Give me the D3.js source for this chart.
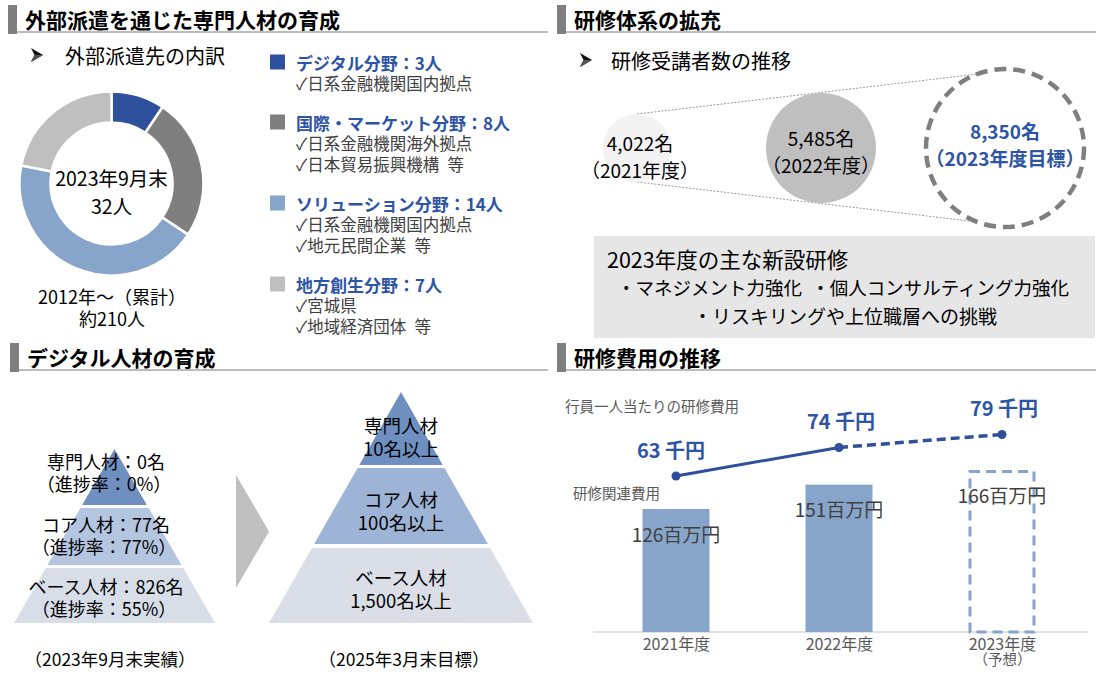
<!DOCTYPE html>
<html><head><meta charset="utf-8">
<script src="https://cdn.jsdelivr.net/npm/d3@7"></script>
<style>
body{margin:0;background:#fff}
svg{display:block}
text{font-family:"Noto Sans CJK JP","Noto Sans",sans-serif}
</style>
</head><body>
<svg id="c" width="1099" height="676"></svg>
<script>
// ---------------- data ----------------
const sectionTitles = ["外部派遣を通じた専門人材の育成","研修体系の拡充","デジタル人材の育成","研修費用の推移"];
const dispatchHeading = "外部派遣先の内訳";
const dispatchFields = ["デジタル分野","国際・マーケット分野","ソリューション分野","地方創生分野"];
const dispatchCounts = [3, 8, 14, 7];
const dispatchDestinations = [
  ["日系金融機関国内拠点"],
  ["日系金融機関海外拠点","日本貿易振興機構\u2002等"],
  ["日系金融機関国内拠点","地元民間企業\u2002等"],
  ["宮城県","地域経済団体\u2002等"]
];
const donutCenterLabels = ["2023年9月末","32人"];
const cumulativeLabels = ["2012年～（累計）","約210人"];

const attendeeHeading = "研修受講者数の推移";
const attendeeYears = ["2021年度","2022年度","2023年度目標"];
const attendeeCounts = [4022, 5485, 8350];
const newCourseTitle = "2023年度の主な新設研修";
const newCourses = ["・マネジメント力強化\u2002・個人コンサルティング力強化","・リスキリングや上位職層への挑戦"];

const tierNames = ["専門人材","コア人材","ベース人材"];
const currentCounts = [0, 77, 826];
const progressRates = [0, 77, 55];
const targetCounts = [10, 100, 1500];
const pyramidCaptions = ["（2023年9月末実績）","（2025年3月末目標）"];

const costYears = ["2021年度","2022年度","2023年度"];
const costYearNotes = ["","","（予想）"];
const costTotals = [126, 151, 166];       // 百万円
const costPerEmployee = [63, 74, 79];     // 千円
const costLabels = ["行員一人当たりの研修費用","研修関連費用"];

// ---------------- drawing ----------------
const svg = d3.select("#c");
const BLUE = "#2f4f9b", TBLUE = "#2e54a5";
const donutColors = ["#2f509c","#7f7f7f","#87a4ca","#bfbfbf"];

function T(x, y, str, o = {}) {
  return svg.append("text").attr("x", x).attr("y", y)
    .attr("dominant-baseline", "central")
    .attr("font-size", o.size || 18)
    .attr("fill", o.fill || "#000")
    .attr("text-anchor", o.anchor || "start")
    .attr("font-weight", o.weight || "normal")
    .text(str);
}
// multi-line text in one element (lines: [{s, x?, dy, size?, fill?, weight?}])
function TM(x, y, lines, o = {}) {
  const t = svg.append("text").attr("x", x).attr("y", y)
    .attr("dominant-baseline", "central")
    .attr("font-size", o.size || 18)
    .attr("fill", o.fill || "#000")
    .attr("text-anchor", o.anchor || "start")
    .attr("font-weight", o.weight || "normal");
  lines.forEach((l, i) => {
    const ts = t.append("tspan").attr("x", x + (l.dx || 0)).attr("dominant-baseline", "central").text(l.s);
    if (i === 0) ts.attr("y", y); else ts.attr("dy", l.dy);
    if (l.size) ts.attr("font-size", l.size);
    if (l.fill) ts.attr("fill", l.fill);
    if (l.weight) ts.attr("font-weight", l.weight);
  });
  return t;
}

// section headers
const headerBoxes = [[8,5,548],[557,5,1096],[10,343,548],[557,343,1096]];
sectionTitles.forEach((t, i) => {
  const [x, y, x2] = headerBoxes[i];
  svg.append("line").attr("x1", x + 9).attr("x2", x2).attr("y1", y + 27).attr("y2", y + 27)
    .attr("stroke", "#a6a6a6").attr("stroke-width", 1.5);
  svg.append("rect").attr("x", x).attr("y", y).attr("width", 9).attr("height", 29).attr("fill", "#7f7f7f");
  T(x + 17, y + 14, t, {size: 21, weight: "bold"});
});

// sub headings with arrowhead bullet
function arrowHead(x, y) {
  svg.append("path").attr("d", `M${x},${y - 7}L${x + 12},${y}L${x},${y + 7}L${x + 3.5},${y}Z`).attr("fill", "#111");
  svg.append("path").attr("d", `M${x + 3.5},${y}L${x + 12},${y}L${x},${y + 7}Z`).attr("fill", "#555");
}
arrowHead(31, 55); T(65, 55, dispatchHeading, {size: 20});
arrowHead(580, 60); T(611, 60, attendeeHeading, {size: 20});

// ---- donut ----
const pie = d3.pie().sort(null).value(d => d)(dispatchCounts);
const arc = d3.arc().innerRadius(61).outerRadius(92);
const dg = svg.append("g").attr("transform", "translate(111.5,183.5)");
dg.selectAll("path").data(pie).join("path")
  .attr("d", arc).attr("fill", (d, i) => donutColors[i])
  .attr("stroke", "#fff").attr("stroke-width", 2.5);
TM(111.5, 177, [{s: donutCenterLabels[0]}, {s: donutCenterLabels[1], dy: 28}], {size: 19.5, anchor: "middle"});
TM(112, 296, [{s: cumulativeLabels[0]}, {s: cumulativeLabels[1], dy: 22}], {size: 18, anchor: "middle"});

// ---- legend ----
let ly = 62;
dispatchFields.forEach((f, i) => {
  svg.append("rect").attr("x", 270).attr("y", ly - 7.5).attr("width", 15).attr("height", 15).attr("fill", donutColors[i]);
  const lines = [{s: `${f}：${dispatchCounts[i]}人`, size: 17, weight: "bold", fill: TBLUE}]
    .concat(dispatchDestinations[i].map(s => ({s: "✓" + s, dy: 21, size: 16.5, fill: "#404040", weight: "normal"})));
  TM(296, ly, lines, {size: 17});
  ly += 21 * dispatchDestinations[i].length + 39;
});

// ---- attendee circles ----
const cx = d3.scalePoint().domain(attendeeYears).range([637, 1005]);
const rr = d3.scaleLinear().domain([4022, 5485, 8350]).range([34, 55, 79]);
const ccy = 148;
const bx = cx(attendeeYears[2]), br = rr(attendeeCounts[2]);
const sx = cx(attendeeYears[0]), sr = rr(attendeeCounts[0]);
[-1, 1].forEach(s => {
  const dx = 28, dy = Math.sqrt(br * br - dx * dx);
  svg.append("line").attr("x1", sx).attr("y1", ccy + s * sr).attr("x2", bx - dx).attr("y2", ccy + s * dy)
    .attr("stroke", "#9a9a9a").attr("stroke-width", 1).attr("stroke-dasharray", "2 1.5");
});
const circleFill = ["#f2f2f2", "#bfbfbf", "#fff"];
attendeeYears.forEach((y, i) => {
  const c = svg.append("circle").attr("cx", cx(y)).attr("cy", ccy).attr("r", rr(attendeeCounts[i]))
    .attr("fill", circleFill[i]);
  if (i === 2) c.attr("fill", "none").attr("stroke", "#7f7f7f").attr("stroke-width", 4.5).attr("stroke-dasharray", "12 7");
});
const labOff = [-6, -11, -18];
attendeeYears.forEach((y, i) => {
  const bold = i === 2;
  TM(cx(y) + (i === 0 ? 3 : 0), ccy + labOff[i],
     [{s: d3.format(",")(attendeeCounts[i]) + "名"}, {s: "（" + y + "）", dy: 27}],
     {size: 19, anchor: "middle", fill: bold ? TBLUE : "#000", weight: bold ? "bold" : "normal"});
});

// new courses box
svg.append("rect").attr("x", 594).attr("y", 236).attr("width", 501).attr("height", 102).attr("fill", "#e7e6e6");
TM(607, 258, [
  {s: newCourseTitle, size: 21.5},
  {s: newCourses[0], dx: 236, dy: 29, size: 18.5},
  {s: newCourses[1], dx: 238, dy: 28, size: 19}
], {size: 19});
// center the bullet lines
svg.selectAll("text").filter(function () { return this.textContent.startsWith(newCourseTitle); })
  .selectAll("tspan").filter((d, i) => i > 0).attr("text-anchor", "middle");

// ---- pyramids ----
function pyramid(pcx, apexY, baseY, halfBase, bounds, colors) {
  const hw = y => halfBase * (y - apexY) / (baseY - apexY);
  bounds.forEach(([y0, y1], i) => {
    const pts = i === 0
      ? [[pcx, y0], [pcx + hw(y1), y1], [pcx - hw(y1), y1]]
      : [[pcx - hw(y0), y0], [pcx + hw(y0), y0], [pcx + hw(y1), y1], [pcx - hw(y1), y1]];
    svg.append("polygon").attr("points", pts.map(p => p.join(",")).join(" ")).attr("fill", colors[i]);
  });
}
pyramid(114.5, 449, 623, 100.5, [[449, 505], [508, 565], [568, 623]], ["#6f8fc1", "#b4c5e0", "#d8dee8"]);
pyramid(401, 392, 623, 132, [[392, 465], [468, 544], [548, 623]], ["#6f8fc1", "#9db4d6", "#d9dee7"]);
svg.append("polygon").attr("points", "236,475 269,531.5 236,588").attr("fill", "#bfbfbf");

const leftY = [462, 525, 587];
tierNames.forEach((n, i) => {
  TM(106, leftY[i] - 1, [
    {s: `${n}：${currentCounts[i]}名`},
    {s: `（進捗率：${progressRates[i]}%）`, dx: -2, dy: 22}
  ], {size: 18, anchor: "middle"});
});
const rightY = [426, 500, 578];
tierNames.forEach((n, i) => {
  TM(401, rightY[i] - 1, [
    {s: n},
    {s: d3.format(",")(targetCounts[i]) + "名以上", dy: 23}
  ], {size: 18.5, anchor: "middle"});
});
T(110, 658, pyramidCaptions[0], {size: 17.5, anchor: "middle"});
T(404, 658, pyramidCaptions[1], {size: 17.5, anchor: "middle"});

// ---- cost chart ----
const bx2 = d3.scalePoint().domain(costYears).range([676, 1002]);
const yb = d3.scaleLinear().domain([0, 166]).range([632, 470]);
const yl = d3.scaleLinear().domain([63, 79]).range([476, 434.5]);
const bw = 67;
svg.append("line").attr("x1", 593).attr("x2", 1088).attr("y1", 632).attr("y2", 632)
  .attr("stroke", "#d9d9d9").attr("stroke-width", 1.5);
costYears.forEach((y, i) => {
  const r = svg.append("rect").attr("x", bx2(y) - bw / 2).attr("y", yb(costTotals[i]))
    .attr("width", bw).attr("height", yb(0) - yb(costTotals[i]));
  if (i < 2) r.attr("fill", "#87a4ca");
  else r.attr("x", bx2(y) - bw / 2 + 1.5).attr("y", yb(costTotals[i]) + 1.5).attr("width", bw - 3)
        .attr("height", yb(0) - yb(costTotals[i]) - 1.5)
        .attr("fill", "none").attr("stroke", "#87a4ca").attr("stroke-width", 3).attr("stroke-dasharray", "10 6");
});
// x axis labels (second line added as tspan)
const ax = svg.append("g").attr("transform", "translate(0,632)")
  .call(d3.axisBottom(bx2).tickSize(0).tickPadding(12));
ax.select(".domain").remove();
ax.selectAll("text").attr("font-size", 16).attr("fill", "#595959")
  .attr("font-family", "Noto Sans CJK JP").attr("dy", "0.4em")
  .each(function (d, i) {
    const note = costYearNotes[costYears.indexOf(d)];
    if (note) {
      const t = d3.select(this); const txt = t.text(); t.text(null);
      t.append("tspan").attr("x", 0).text(txt);
      t.append("tspan").attr("x", 0).attr("dy", 15).attr("font-size", 14.5).text(note);
    }
  });
costYears.forEach((y, i) => {
  T(bx2(y), yb(costTotals[i]) + 24, costTotals[i] + "百万円", {size: 19, anchor: "middle", fill: "#404040"});
});
// line
const pts = costYears.map((y, i) => [bx2(y), yl(costPerEmployee[i])]);
const lg = d3.line();
svg.append("path").attr("d", lg(pts.slice(0, 2))).attr("fill", "none").attr("stroke", BLUE).attr("stroke-width", 3);
svg.append("path").attr("d", lg(pts.slice(1))).attr("fill", "none").attr("stroke", BLUE).attr("stroke-width", 3.5)
  .attr("stroke-dasharray", "9 5");
pts.forEach(p => svg.append("circle").attr("cx", p[0]).attr("cy", p[1]).attr("r", 4.5).attr("fill", BLUE));
pts.forEach((p, i) => T(p[0] + (i === 0 ? -5 : 2), p[1] - 27, costPerEmployee[i] + " 千円",
  {size: 20, weight: "bold", anchor: "middle", fill: TBLUE}));
T(565, 405, costLabels[0], {size: 14.5, fill: "#595959"});
T(573, 492, costLabels[1], {size: 14.5, fill: "#595959"});
</script>
</body></html>
